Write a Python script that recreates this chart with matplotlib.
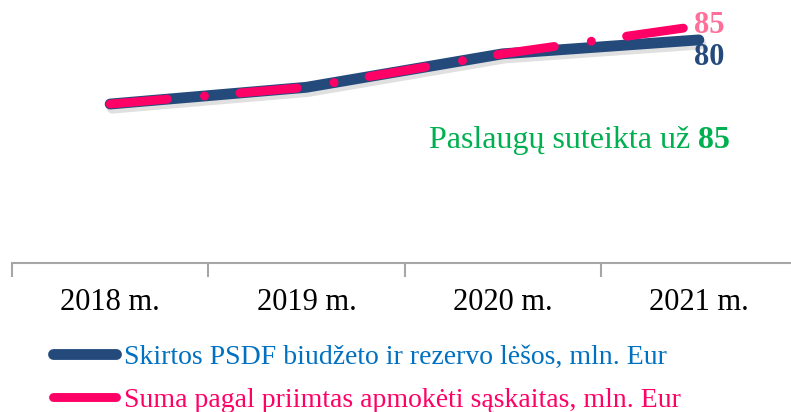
import matplotlib
matplotlib.use("Agg")
import matplotlib.pyplot as plt
import matplotlib.patheffects as pe
from matplotlib.lines import Line2D

categories = ["2018 m.", "2019 m.", "2020 m.", "2021 m."]
allocated = [57, 63, 75, 80]
invoiced = [57, 63, 75, 85]
series_labels = ["Skirtos PSDF biudžeto ir rezervo lėšos, mln. Eur",
                 "Suma pagal priimtas apmokėti sąskaitas, mln. Eur"]
note_text = "Paslaugų suteikta už "
note_value = "85"

NAVY = "#244A7C"
PINK = "#FF0066"
PINK_LABEL = "#FF6F9A"
BLUE_TXT = "#0070C0"
GREEN = "#00B050"
GRAY = "#A6A6A6"

plt.rcParams["font.family"] = ["Liberation Serif", "DejaVu Serif"]

W, H = 791, 412
fig = plt.figure(figsize=(W / 100, H / 100), dpi=100)
ax = fig.add_axes([12 / W, (H - 263) / H, 785 / W, 263 / H])

x = list(range(len(categories)))
shadow = [pe.SimpleLineShadow(offset=(1.5, -3), shadow_color="black", alpha=0.12), pe.Normal()]

ax.plot(x, allocated, color=NAVY, lw=7.8, solid_capstyle="round",
        solid_joinstyle="round", path_effects=shadow, zorder=2)
pl, = ax.plot(x, invoiced, color=PINK, lw=6.4, dash_capstyle="round",
              dash_joinstyle="round", zorder=3)
pl.set_dashes((6.45, 4.2, 0.01, 4.0))

ax.set_xlim(-0.5, 3.5)
ax.set_ylim(0, 94.3)

for s in ["top", "right", "left"]:
    ax.spines[s].set_visible(False)
ax.spines["bottom"].set_color(GRAY)
ax.spines["bottom"].set_linewidth(1.5)
ax.set_yticks([])
ax.set_xticks([i - 0.5 for i in range(len(categories) + 1)])
ax.set_xticklabels([])
ax.tick_params(axis="x", which="major", direction="out", length=10, width=1.5, color=GRAY)
ax.set_xticks(x, minor=True)
ax.set_xticklabels(categories, minor=True, fontsize=22)
ax.tick_params(axis="x", which="minor", length=0, pad=18)

ax.annotate(str(invoiced[-1]), xy=(x[-1], invoiced[-1]), xytext=(-5, 0),
            textcoords="offset pixels", ha="left", va="center",
            fontsize=22, fontweight="bold", color=PINK_LABEL)
ax.annotate(str(allocated[-1]), xy=(x[-1], allocated[-1]), xytext=(-5, -18),
            textcoords="offset pixels", ha="left", va="center",
            fontsize=22, fontweight="bold", color=NAVY)

t85 = fig.text(730 / W, 1 - 148 / H, note_value, ha="right", va="baseline",
               fontsize=23, fontweight="bold", color=GREEN)
ax.annotate(note_text, xy=(0, 0), xycoords=t85, ha="right", va="bottom",
            fontsize=23, color=GREEN, annotation_clip=False)

handles = [Line2D([0], [0], color=NAVY, lw=7.8, solid_capstyle="round"),
           Line2D([0], [0], color=PINK, lw=6.4, solid_capstyle="round")]
leg = fig.legend(handles, series_labels, loc="upper left",
                 bbox_to_anchor=(53 / W, 1 - 344 / H), frameon=False,
                 fontsize=20, handlelength=2.27, handletextpad=0.3,
                 labelspacing=0.64, borderpad=0, borderaxespad=0)
for txt, c in zip(leg.get_texts(), [BLUE_TXT, PINK]):
    txt.set_color(c)

fig.savefig("out.png", dpi=100)
